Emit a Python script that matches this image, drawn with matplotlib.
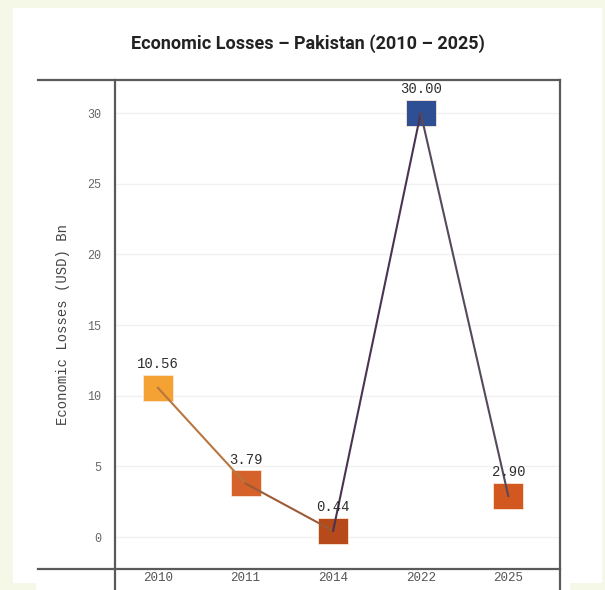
import matplotlib
matplotlib.use("Agg")
import matplotlib.pyplot as plt
from matplotlib.lines import Line2D
from matplotlib.patches import Rectangle

years = ["2010", "2011", "2014", "2022", "2025"]
losses = [10.56, 3.79, 0.44, 30.00, 2.90]
marker_colors = ["#f4a234", "#d4622a", "#b64a1a", "#2f4f95", "#d2581f"]
segment_colors = ["#b8763e", "#9c5a36", "#4a3452", "#554a5c"]
y_ticks = [0, 5, 10, 15, 20, 25, 30]

W, H = 605, 590
fig = plt.figure(figsize=(W / 100, H / 100), dpi=100)
fig.patch.set_facecolor("#f5f8e6")

# white card behind the chart
fig.add_artist(Rectangle((13 / W, 1 - 583 / H), 589 / W, 575 / H,
                         transform=fig.transFigure, facecolor="white",
                         edgecolor="none", zorder=0))
fig.add_artist(Rectangle((36 / W, 0), 534 / W, 10 / H,
                         transform=fig.transFigure, facecolor="white",
                         edgecolor="none", zorder=0))

left, right, top, bottom = 115, 560, 80, 569
ax = plt.axes([left / W, 1 - bottom / H, (right - left) / W, (bottom - top) / H])
ax.set_facecolor("none")
for s in ax.spines.values():
    s.set_visible(False)

x = list(range(len(years)))

# connecting line, one colour per segment
for i in range(len(x) - 1):
    ax.plot(x[i:i + 2], losses[i:i + 2], color=segment_colors[i], lw=1.5, zorder=4)

rect = [(-0.6, -0.5), (0.6, -0.5), (0.6, 0.5), (-0.6, 0.5), (-0.6, -0.5)]
for xi, v, c in zip(x, losses, marker_colors):
    ax.plot(xi, v, marker=rect, markersize=22, color=c,
            markeredgecolor="#fbe6d6", markeredgewidth=0.6, zorder=3)
    ax.annotate(f"{v:.2f}", (xi, v), xytext=(0, 17), textcoords="offset points",
                ha="center", va="center", fontsize=10, family="Liberation Mono",
                color="#2e2e2e", zorder=5)

ax.set_xlim(-0.49, 4.59)
ax.set_ylim(-2.26, 32.34)
ax.set_xticks(x)
ax.set_xticklabels(years, family="Liberation Mono", fontsize=9, color="#555555")
ax.set_yticks(y_ticks)
ax.set_yticklabels([str(t) for t in y_ticks], family="Liberation Mono",
                   fontsize=8.5, color="#666666")
ax.tick_params(axis="both", length=0)
ax.tick_params(axis="y", pad=10)
ax.tick_params(axis="x", pad=2)
ax.grid(axis="y", color="#f1f1f1", lw=1)
ax.set_axisbelow(True)
ax.set_ylabel("Economic Losses (USD) Bn", family="Liberation Mono",
              fontsize=10, color="#444444", labelpad=12)

# frame lines
lc = "#5a5a5a"
for yy in (top, bottom):
    fig.add_artist(Line2D([38 / W, right / W], [1 - yy / H, 1 - yy / H],
                          transform=fig.transFigure, color=lc, lw=1.6))
for xx in (left, right):
    fig.add_artist(Line2D([xx / W, xx / W], [1 - top / H, 0],
                          transform=fig.transFigure, color=lc, lw=1.6))

fig.text(308 / W, 1 - 44 / H, "Economic Losses \u2013 Pakistan (2010 \u2013 2025)",
         ha="center", va="center", fontsize=13, fontweight="bold",
         family="Roboto", color="#222222")

fig.savefig("out.png", dpi=100)
